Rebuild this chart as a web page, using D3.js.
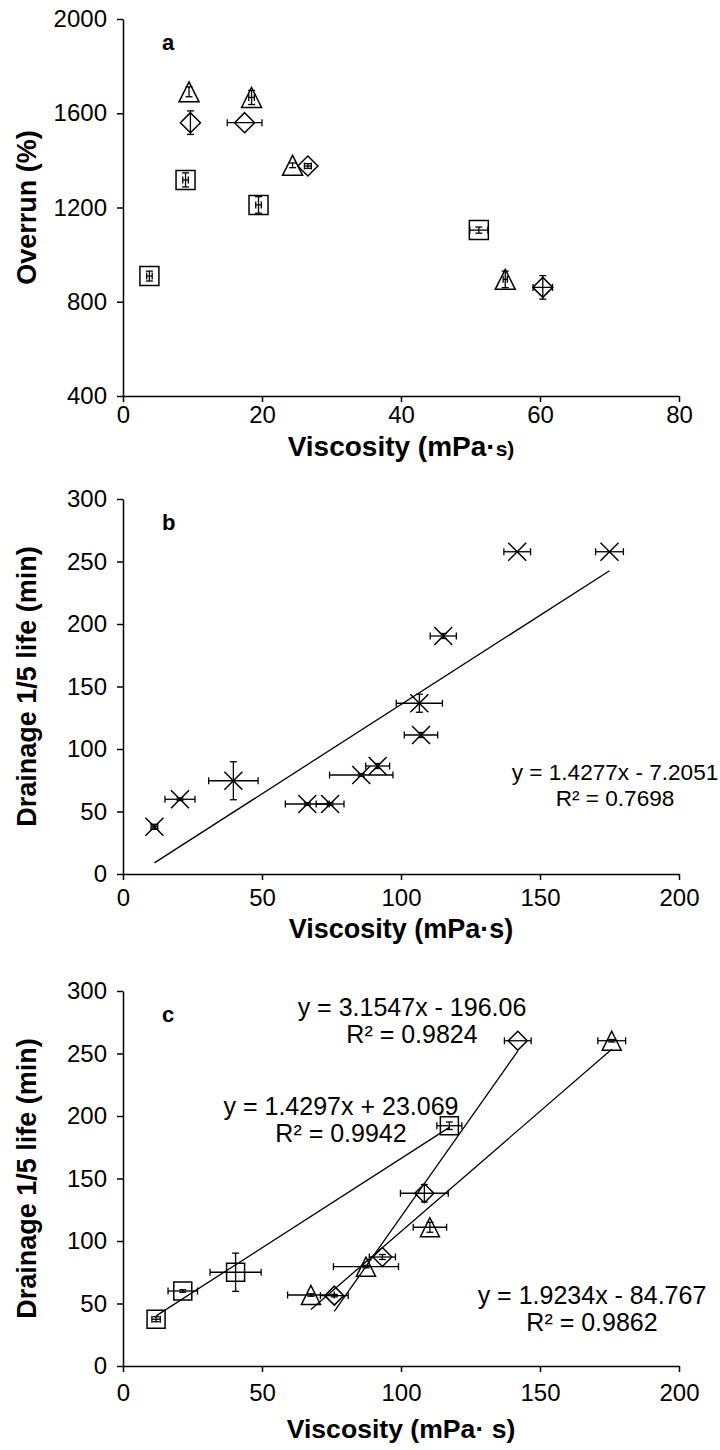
<!DOCTYPE html>
<html><head><meta charset="utf-8">
<script src="https://cdn.jsdelivr.net/npm/d3@7"></script>
<style>
body{margin:0;background:#fff}
text{font-family:"Liberation Sans",Arial,sans-serif;fill:#000}
</style></head><body>
<svg id="chart" width="720" height="1450"></svg>
<script>
// ---------- Panel a : Overrun vs viscosity ----------
const aXTicks=[0,20,40,60,80];
const aYTicks=[400,800,1200,1600,2000];
const aSquareX=[3.8,9.0,19.5,51.2];
const aSquareY=[909,1317,1211,1104];
const aSquareXErr=[0.4,0.4,0.4,1.3];
const aSquareYErr=[21,30,35,13];
const aTriX=[9.5,18.5,24.4,55.0];
const aTriY=[1691,1667,1379,895];
const aTriXErr=[0,0.4,0,0.3];
const aTriYErr=[21,30,10,35];
const aDiaX=[9.7,17.5,26.6,60.4];
const aDiaY=[1560,1560,1376,861];
const aDiaXErr=[0,2.5,0.5,1.4];
const aDiaYErr=[50,0,10,50];

// ---------- Panel b : all samples ----------
const bcXTicks=[0,50,100,150,200];
const bcYTicks=[0,50,100,150,200,250,300];
const bX=[11.3,20.5,39.7,66.3,74.5,85.7,91.6,106.6,107.2,115.2,141.8,175.0];
const bY=[37.8,59.8,74.6,56.0,56.0,79.2,86.4,136.6,111.2,190.4,257.8,257.8];
const bXErr=[1.2,5.4,8.9,7.9,5.0,11.4,4.3,8.3,6.0,4.7,4.8,5.0];
const bYErr=[2,1,15.2,1,1,1,2,7.2,2,2,0,0];
const bFit=[1.4277,-7.2051];
const bEq=["y = 1.4277x - 7.2051","R² = 0.7698"];

// ---------- Panel c : three series ----------
const cSquareX=[11.9,21.5,40.5,117.4];
const cSquareY=[37.4,60.0,75.0,192.2];
const cSquareXErr=[1.5,5.3,9.2,4.5];
const cSquareYErr=[2,1,15.3,3];
const cSquareFit=[1.4297,23.069];
const cSquareEq=["y = 1.4297x + 23.069","R² = 0.9942"];
const cTriX=[67.6,87.4,110.4,175.8];
const cTriY=[56.8,79.5,111.0,260.2];
const cTriXErr=[8.4,11.7,6.0,5.0];
const cTriYErr=[1,1,4,1];
const cTriFit=[1.9234,-84.767];
const cTriEq=["y = 1.9234x - 84.767","R² = 0.9862"];
const cDiaX=[76.0,93.3,108.4,142.0];
const cDiaY=[56.3,87.2,138.2,260.2];
const cDiaXErr=[5.0,4.7,8.6,4.8];
const cDiaYErr=[1,2,7,0];
const cDiaFit=[3.1547,-196.06];
const cDiaEq=["y = 3.1547x - 196.06","R² = 0.9824"];

const svg=d3.select("#chart");
const L=123,R=679;
const TICK_FS=24;

function zip(xs,ys,xe,ye){return xs.map((v,i)=>({x:v,y:ys[i],xe:xe[i],ye:ye[i]}));}

function axes(g,x,y,xt,yt,bottom,xpad){
  const ax=g.append("g").attr("transform",`translate(0,${bottom})`)
    .call(d3.axisBottom(x).tickValues(xt).tickFormat(d3.format("d")).tickSize(6).tickSizeOuter(0).tickPadding(xpad));
  const ay=g.append("g").attr("transform",`translate(${L},0)`)
    .call(d3.axisLeft(y).tickValues(yt).tickFormat(d3.format("d")).tickSize(6).tickSizeOuter(0).tickPadding(10));
  [ax,ay].forEach(a=>{
    a.select(".domain").attr("stroke","#000").attr("stroke-width",1.5);
    a.selectAll(".tick line").attr("stroke","#000").attr("stroke-width",1.5);
    a.selectAll(".tick text").attr("font-size",TICK_FS).attr("font-family","Liberation Sans, Arial, sans-serif").attr("fill","#000");
  });
}

function errorBars(g,data,x,y){
  const c=3.5;
  const eg=g.append("g").attr("stroke","#000").attr("stroke-width",1.3).attr("fill","none");
  data.forEach(d=>{
    if(d.xe>0){
      const x0=x(d.x-d.xe),x1=x(d.x+d.xe),yy=y(d.y);
      eg.append("line").attr("x1",x0).attr("x2",x1).attr("y1",yy).attr("y2",yy);
      eg.append("line").attr("x1",x0).attr("x2",x0).attr("y1",yy-c).attr("y2",yy+c);
      eg.append("line").attr("x1",x1).attr("x2",x1).attr("y1",yy-c).attr("y2",yy+c);
    }
    if(d.ye>0){
      const y0=y(d.y-d.ye),y1=y(d.y+d.ye),xx=x(d.x);
      eg.append("line").attr("x1",xx).attr("x2",xx).attr("y1",y0).attr("y2",y1);
      eg.append("line").attr("x1",xx-c).attr("x2",xx+c).attr("y1",y0).attr("y2",y0);
      eg.append("line").attr("x1",xx-c).attr("x2",xx+c).attr("y1",y1).attr("y2",y1);
    }
  });
}

function markers(g,data,x,y,shape,size){
  const h=size/2;
  const mg=g.append("g").attr("stroke","#000").attr("stroke-width",1.5).attr("fill","none");
  data.forEach(d=>{
    const cx=x(d.x),cy=y(d.y);
    let p;
    if(shape==="square") p=`M${cx-h},${cy-h}H${cx+h}V${cy+h}H${cx-h}Z`;
    else if(shape==="diamond") p=`M${cx},${cy-h}L${cx+h},${cy}L${cx},${cy+h}L${cx-h},${cy}Z`;
    else if(shape==="triangle") p=`M${cx},${cy-h}L${cx+h},${cy+h}L${cx-h},${cy+h}Z`;
    else p=`M${cx-h},${cy-h}L${cx+h},${cy+h}M${cx-h},${cy+h}L${cx+h},${cy-h}`;
    mg.append("path").attr("d",p);
  });
}

function trend(g,xs,fit,x,y){
  const x0=d3.min(xs),x1=d3.max(xs);
  const line=d3.line().x(d=>x(d)).y(d=>y(fit[0]*d+fit[1]));
  g.append("path").attr("d",line([x0,x1])).attr("stroke","#000").attr("stroke-width",1.3).attr("fill","none");
}

function eqLabel(g,lines,cx,y0,fs,gap){
  lines.forEach((t,i)=>g.append("text").attr("x",cx).attr("y",y0+i*gap).attr("text-anchor","middle").attr("font-size",fs).text(t));
}

function yTitle(g,text,cy,fs){
  g.append("text").attr("transform",`translate(36,${cy}) rotate(-90)`).attr("text-anchor","middle")
   .attr("font-size",fs).attr("font-weight","bold").text(text);
}

// ---- Panel a
{
  const top=19,bottom=396;
  const x=d3.scaleLinear().domain([0,80]).range([L,R]);
  const y=d3.scaleLinear().domain([400,2000]).range([bottom,top]);
  const g=svg.append("g");
  axes(g,x,y,aXTicks,aYTicks,bottom,4);
  const sq=zip(aSquareX,aSquareY,aSquareXErr,aSquareYErr);
  const tr=zip(aTriX,aTriY,aTriXErr,aTriYErr);
  const di=zip(aDiaX,aDiaY,aDiaXErr,aDiaYErr);
  [sq,tr,di].forEach(s=>errorBars(g,s,x,y));
  markers(g,sq,x,y,"square",19);
  markers(g,tr,x,y,"triangle",20);
  markers(g,di,x,y,"diamond",20);
  g.append("text").attr("x",162).attr("y",50).attr("font-size",22).attr("font-weight","bold").text("a");
  yTitle(g,"Overrun (%)",(top+bottom)/2,27);
  const t=g.append("text").attr("x",(L+R)/2).attr("y",456).attr("text-anchor","middle").attr("font-size",28).attr("font-weight","bold");
  t.append("tspan").text("Viscosity (mPa·");
  t.append("tspan").attr("font-size",21).text("s)");
}

// ---- Panel b
{
  const top=499,bottom=874;
  const x=d3.scaleLinear().domain([0,200]).range([L,R]);
  const y=d3.scaleLinear().domain([0,300]).range([bottom,top]);
  const g=svg.append("g");
  axes(g,x,y,bcXTicks,bcYTicks,bottom,9);
  const pts=zip(bX,bY,bXErr,bYErr);
  errorBars(g,pts,x,y);
  markers(g,pts,x,y,"cross",18);
  trend(g,bX,bFit,x,y);
  eqLabel(g,bEq,615,780,22.6,26);
  g.append("text").attr("x",162).attr("y",530).attr("font-size",22).attr("font-weight","bold").text("b");
  yTitle(g,"Drainage 1/5 life (min)",(top+bottom)/2,27);
  g.append("text").attr("x",(L+R)/2).attr("y",938).attr("text-anchor","middle").attr("font-size",27).attr("font-weight","bold").text("Viscosity (mPa·s)");
}

// ---- Panel c
{
  const top=991,bottom=1366;
  const x=d3.scaleLinear().domain([0,200]).range([L,R]);
  const y=d3.scaleLinear().domain([0,300]).range([bottom,top]);
  const g=svg.append("g");
  axes(g,x,y,bcXTicks,bcYTicks,bottom,12);
  const sq=zip(cSquareX,cSquareY,cSquareXErr,cSquareYErr);
  const tr=zip(cTriX,cTriY,cTriXErr,cTriYErr);
  const di=zip(cDiaX,cDiaY,cDiaXErr,cDiaYErr);
  [sq,tr,di].forEach(s=>errorBars(g,s,x,y));
  trend(g,cSquareX,cSquareFit,x,y);
  trend(g,cTriX,cTriFit,x,y);
  trend(g,cDiaX,cDiaFit,x,y);
  markers(g,sq,x,y,"square",18);
  markers(g,tr,x,y,"triangle",19);
  markers(g,di,x,y,"diamond",19);
  eqLabel(g,cDiaEq,412,1016,25,27);
  eqLabel(g,cSquareEq,341,1115,25,27);
  eqLabel(g,cTriEq,592,1304,25,27);
  g.append("text").attr("x",162).attr("y",1022).attr("font-size",22).attr("font-weight","bold").text("c");
  yTitle(g,"Drainage 1/5 life (min)",(top+bottom)/2,27);
  g.append("text").attr("x",(L+R)/2).attr("y",1438).attr("text-anchor","middle").attr("font-size",26.6).attr("font-weight","bold").text("Viscosity (mPa· s)");
}
</script></body></html>
